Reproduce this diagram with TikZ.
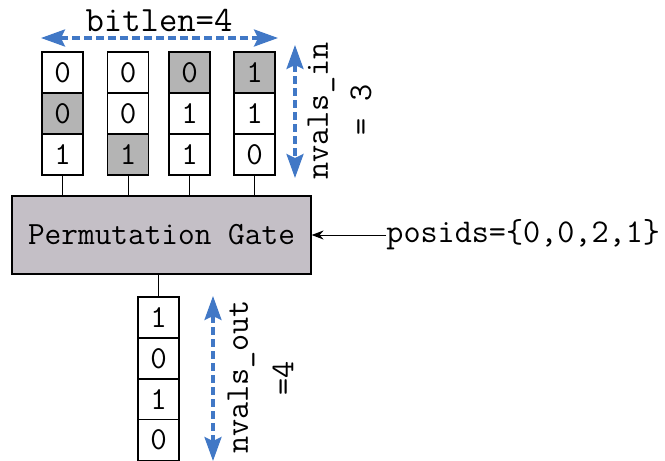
\documentclass[tikz,border=0pt]{standalone}
\usetikzlibrary{arrows.meta}
\definecolor{gatefill}{RGB}{196,191,198}
\definecolor{bitshade}{RGB}{180,180,180}
\definecolor{dimblue}{RGB}{65,120,198}
\tikzset{
  txt/.style={font=\ttfamily\fontsize{16.6}{18}\selectfont, inner sep=0pt},
  bit/.style={draw, line width=0.6pt, minimum width=20.5pt, minimum height=20.5pt,
              inner sep=0pt, fill=white, font=\ttfamily\fontsize{16}{18}\selectfont},
  on/.style={fill=bitshade},
  gatebox/.style={draw, line width=0.6pt, fill=gatefill, minimum width=149.5pt,
                  minimum height=39pt, font=\ttfamily\fontsize{16.2}{18}\selectfont},
  wire/.style={line width=0.5pt},
  dim/.style={dimblue, line width=1.6pt, dash pattern=on 4pt off 2pt,
              {Stealth[length=12pt,width=8.5pt,inset=2pt]}-{Stealth[length=12pt,width=8.5pt,inset=2pt]}}
}
\begin{document}
\begin{tikzpicture}[x=0.5pt,y=-0.5pt]
\useasboundingbox (0,0) rectangle (665,461);

% input registers: one column per bit, three values each
\node[bit]      (a1) at (62.5,72.5)  {0};
\node[bit, on]  (a2) at (62.5,113.5) {0};
\node[bit]      (a3) at (62.5,154.5) {1};
\node[bit]      (b1) at (128,72.5)   {0};
\node[bit]      (b2) at (128,113.5)  {0};
\node[bit, on]  (b3) at (128,154.5)  {1};
\node[bit, on]  (c1) at (189.5,72.5) {0};
\node[bit]      (c2) at (189.5,113.5){1};
\node[bit]      (c3) at (189.5,154.5){1};
\node[bit, on]  (d1) at (254.5,72.5) {1};
\node[bit]      (d2) at (254.5,113.5){1};
\node[bit]      (d3) at (254.5,154.5){0};

% the gate
\node[gatebox] (gate) at (161.5,235) {Permutation Gate};

% wires from the registers into the gate
\foreach \c in {a3,b3,c3,d3}
  \draw[wire] (\c.south) -- (\c.south |- gate.north);

% output register
\node[bit] (o1) at (158.5,317.5) {1};
\node[bit] (o2) at (158.5,358.5) {0};
\node[bit] (o3) at (158.5,399.5) {1};
\node[bit] (o4) at (158.5,440)   {0};
\draw[wire] (gate.south -| o1.north) -- (o1.north);

% position selector
\node[txt, anchor=west] (pos) at (386,235) {posids=\{0,0,2,1\}};
\draw[wire, -{Stealth[length=6pt,width=4.5pt]}] (pos.west) -- (gate.east);

% dimension markers
\coordinate (bl) at (41,38);
\coordinate (br) at (278,38);
\draw[dim] (bl) -- (br);
\node[txt, font=\ttfamily\fontsize{17.8}{20}\selectfont] (bitlen) at (159,20) {bitlen=4};

\coordinate (it) at (295,45);
\coordinate (ib) at (295,178);
\draw[dim] (it) -- (ib);
\node[txt, rotate=90] (nin) at (321,111) {nvals\_in};
\node[txt, rotate=90] (nin3) at (361,110) {= 3};

\coordinate (ot) at (213,296);
\coordinate (ob) at (213,461);
\draw[dim] (ot) -- (ob);
\node[txt, rotate=90] (nout) at (241,377) {nvals\_out};
\node[txt, rotate=90] (nout4) at (283,378) {=4};
\end{tikzpicture}
\end{document}
